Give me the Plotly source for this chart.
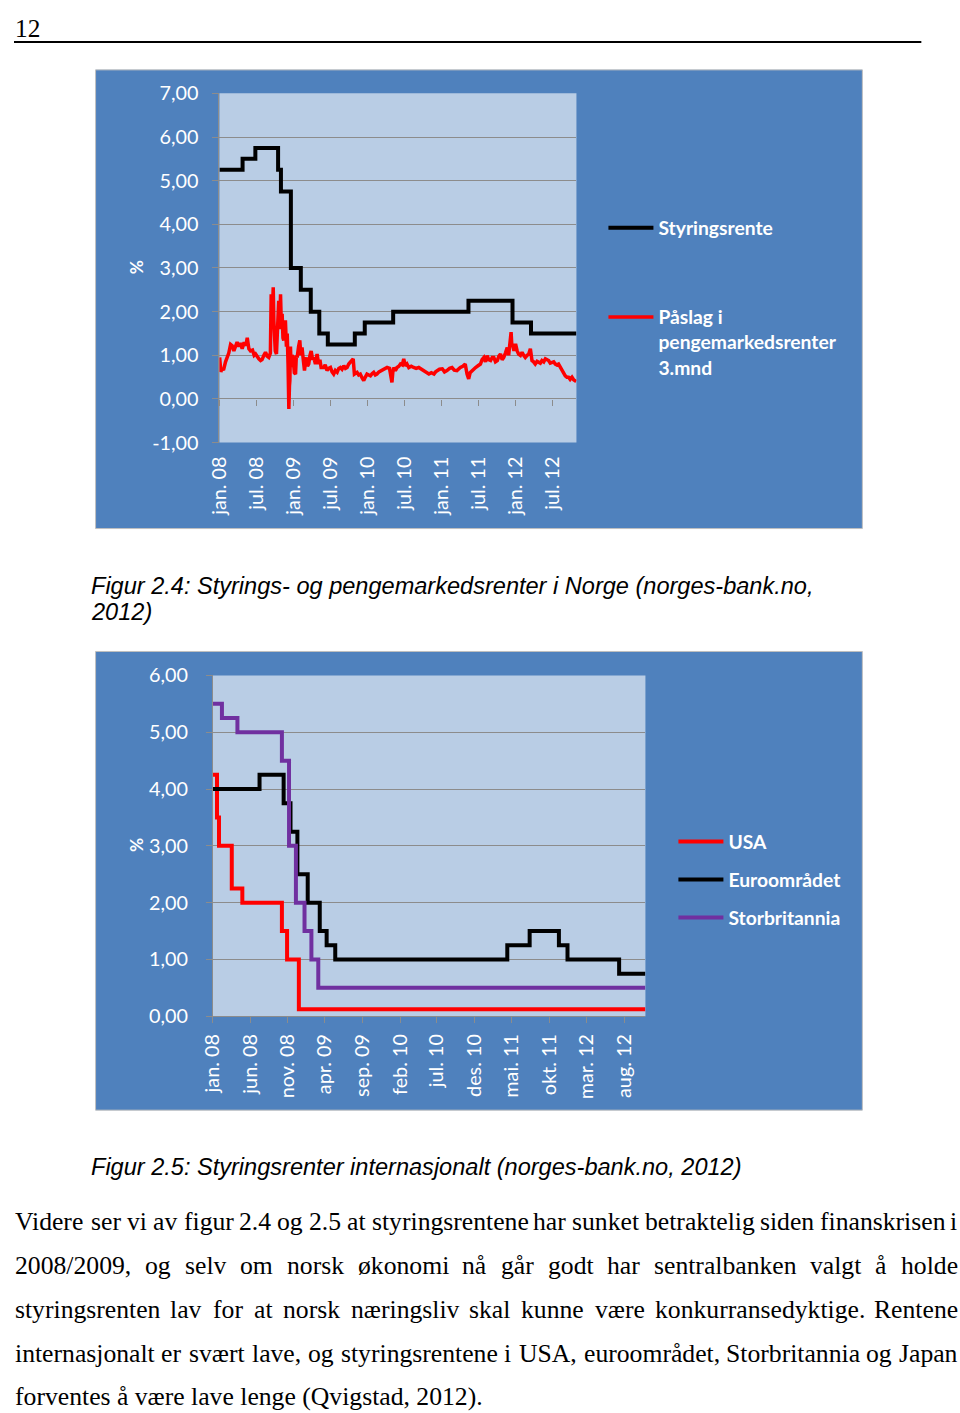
import plotly.graph_objects as go

W, H = 960, 1413
# The page photo shows the figure slightly inset and scaled; positions below are given in
# reference-image pixels and mapped to figure pixels through this correction.
SX, AX = 0.9857, 13.4
SY, AY = 0.98367, 12.1
FS = 1 / 0.985
def dx(x): return (x - AX) / SX
def dy(y): return (y - AY) / SY
def px(x): return dx(x) / W
def py(y): return 1 - dy(y) / H

# ---------------- Data: Figur 2.4 (Norge) ----------------
styr_dates = ['2008-01-01', '2008-04-24', '2008-06-26', '2008-10-16', '2008-10-30', '2008-12-18',
              '2009-02-05', '2009-03-26', '2009-05-07', '2009-06-18', '2009-10-29', '2009-12-17',
              '2010-05-06', '2011-05-12', '2011-12-15', '2012-03-15', '2012-10-25']
styr_values = [5.25, 5.50, 5.75, 5.25, 4.75, 3.00, 2.50, 2.00, 1.50, 1.25, 1.50, 1.75,
               2.00, 2.25, 1.75, 1.50, 1.50]

paslag_dates = [
    '2008-01-02', '2008-01-08', '2008-01-14', '2008-01-21', '2008-01-31', '2008-02-08', '2008-02-16',
    '2008-02-25', '2008-03-04', '2008-03-12', '2008-03-20', '2008-03-28', '2008-04-06', '2008-04-14',
    '2008-04-22', '2008-05-02', '2008-05-10', '2008-05-17', '2008-05-25', '2008-06-02', '2008-06-12',
    '2008-06-20', '2008-06-27', '2008-07-06', '2008-07-13', '2008-07-22', '2008-07-29', '2008-08-07',
    '2008-08-15', '2008-08-23', '2008-08-31', '2008-09-08', '2008-09-12', '2008-09-17', '2008-09-22',
    '2008-09-25', '2008-09-28', '2008-10-02', '2008-10-08', '2008-10-13', '2008-10-19', '2008-10-24',
    '2008-10-28', '2008-11-01', '2008-11-05', '2008-11-09', '2008-11-13', '2008-11-17', '2008-11-21',
    '2008-11-26', '2008-11-30', '2008-12-04', '2008-12-08', '2008-12-11', '2008-12-13', '2008-12-16',
    '2008-12-19', '2008-12-24', '2008-12-29', '2009-01-04', '2009-01-10', '2009-01-14', '2009-01-18',
    '2009-01-25', '2009-01-31', '2009-02-05', '2009-02-11', '2009-02-17', '2009-02-23', '2009-02-28',
    '2009-03-05', '2009-03-10', '2009-03-16', '2009-03-22', '2009-03-28', '2009-04-04', '2009-04-10',
    '2009-04-18', '2009-04-26', '2009-05-04', '2009-05-10', '2009-05-16', '2009-05-29', '2009-06-05',
    '2009-06-14', '2009-06-22', '2009-07-01', '2009-07-09', '2009-07-17', '2009-07-25', '2009-08-03',
    '2009-08-11', '2009-08-19', '2009-08-27', '2009-09-05', '2009-09-13', '2009-09-21', '2009-09-29',
    '2009-10-07', '2009-10-14', '2009-10-21', '2009-10-27', '2009-11-02', '2009-11-09', '2009-11-17',
    '2009-11-25', '2009-12-04', '2009-12-12', '2009-12-20', '2009-12-28', '2010-01-06', '2010-01-14',
    '2010-01-22', '2010-01-30', '2010-02-07', '2010-02-15', '2010-02-25', '2010-03-12', '2010-03-24',
    '2010-04-06', '2010-04-18', '2010-04-30', '2010-05-04', '2010-05-09', '2010-05-17', '2010-05-25',
    '2010-06-03', '2010-06-11', '2010-06-20', '2010-06-27', '2010-07-05', '2010-07-13', '2010-07-22',
    '2010-08-03', '2010-08-15', '2010-08-27', '2010-09-09', '2010-09-21', '2010-10-04', '2010-10-16',
    '2010-10-29', '2010-11-10', '2010-11-23', '2010-12-01', '2010-12-09', '2010-12-20', '2011-01-03',
    '2011-01-14', '2011-01-26', '2011-02-08', '2011-02-20', '2011-03-03', '2011-03-16', '2011-03-25',
    '2011-04-02', '2011-04-14', '2011-04-26', '2011-05-05', '2011-05-13', '2011-05-20', '2011-05-30',
    '2011-06-08', '2011-06-16', '2011-06-28', '2011-07-10', '2011-07-18', '2011-07-27', '2011-08-04',
    '2011-08-12', '2011-08-20', '2011-08-29', '2011-09-06', '2011-09-14', '2011-09-22', '2011-10-01',
    '2011-10-09', '2011-10-17', '2011-10-25', '2011-11-02', '2011-11-10', '2011-11-19', '2011-11-26',
    '2011-12-02', '2011-12-08', '2011-12-12', '2011-12-15', '2011-12-22', '2011-12-30', '2012-01-07',
    '2012-01-14', '2012-01-23', '2012-01-31', '2012-02-08', '2012-02-16', '2012-02-25', '2012-03-04',
    '2012-03-12', '2012-03-20', '2012-03-28', '2012-04-05', '2012-04-14', '2012-04-22', '2012-04-30',
    '2012-05-08', '2012-05-17', '2012-05-25', '2012-06-02', '2012-06-10', '2012-06-18', '2012-06-26',
    '2012-07-05', '2012-07-13', '2012-07-21', '2012-07-29', '2012-08-07', '2012-08-15', '2012-08-23',
    '2012-08-31', '2012-09-08', '2012-09-16', '2012-09-24', '2012-10-03', '2012-10-11', '2012-10-19',
    '2012-10-24']
paslag_values = [
    0.95, 0.62, 0.70, 0.66, 0.85, 0.95, 1.05,
    1.25, 1.22, 1.10, 1.18, 1.30, 1.20, 1.28,
    1.15, 1.30, 1.22, 1.40, 1.15, 1.10, 1.12,
    1.00, 1.03, 0.95, 0.92, 0.88, 0.90, 1.00,
    1.07, 0.98, 0.95, 1.05, 2.40, 1.80, 2.56,
    1.80, 1.49, 1.10, 1.03, 1.50, 2.25, 1.60,
    2.40, 1.70, 1.95, 1.40, 1.34, 1.70, 1.80,
    1.20, 1.50, 0.80, -0.23, 0.30, 0.42, 1.20,
    0.73, 1.00, 0.95, 0.60, 0.57, 1.00, 0.95,
    1.20, 1.34, 1.00, 1.18, 0.90, 0.65, 0.85,
    0.95, 0.75, 0.80, 1.00, 1.10, 0.90, 0.95,
    0.80, 1.03, 0.80, 0.90, 0.72, 0.72, 0.78,
    0.65, 0.70, 0.72, 0.62, 0.57, 0.65, 0.61,
    0.70, 0.72, 0.68, 0.76, 0.70, 0.72, 0.80,
    0.84, 0.88, 0.92, 0.57, 0.60, 0.61, 0.55,
    0.57, 0.48, 0.42, 0.50, 0.57, 0.55, 0.53,
    0.58, 0.61, 0.55, 0.57, 0.62, 0.65, 0.68,
    0.72, 0.70, 0.38, 0.60, 0.72, 0.65, 0.72,
    0.75, 0.80, 0.78, 0.92, 0.76, 0.80, 0.72,
    0.75, 0.72, 0.70, 0.72, 0.68, 0.65, 0.60,
    0.57, 0.60, 0.57, 0.62, 0.65, 0.68, 0.69,
    0.62, 0.65, 0.70, 0.72, 0.66, 0.65, 0.70,
    0.72, 0.75, 0.80, 0.57, 0.46, 0.60, 0.65,
    0.70, 0.72, 0.76, 0.80, 0.90, 0.95, 0.85,
    0.99, 0.90, 0.88, 0.95, 0.95, 0.85, 0.88,
    0.98, 1.03, 0.90, 0.95, 1.05, 1.18, 1.00,
    1.26, 1.53, 1.20, 1.26, 1.10, 1.26, 1.10,
    1.03, 1.00, 1.07, 1.00, 0.95, 1.00, 1.03,
    1.15, 0.88, 0.85, 0.80, 0.86, 0.84, 0.82,
    0.88, 0.85, 0.92, 0.90, 0.88, 0.82, 0.84,
    0.85, 0.80, 0.78, 0.80, 0.72, 0.65, 0.58,
    0.53, 0.50, 0.50, 0.45, 0.50, 0.44, 0.42,
    0.40]

fig1_tick_dates = ['2008-01-01', '2008-07-01', '2009-01-01', '2009-07-01', '2010-01-01',
                   '2010-07-01', '2011-01-01', '2011-07-01', '2012-01-01', '2012-07-01']
fig1_tick_text = ['jan. 08', 'jul. 08', 'jan. 09', 'jul. 09', 'jan. 10',
                  'jul. 10', 'jan. 11', 'jul. 11', 'jan. 12', 'jul. 12']
fig1_y_vals = [-1, 0, 1, 2, 3, 4, 5, 6, 7]
fig1_y_text = ['-1,00', '0,00', '1,00', '2,00', '3,00', '4,00', '5,00', '6,00', '7,00']
fig1_range = ['2008-01-01', '2012-10-25']

# ---------------- Data: Figur 2.5 (internasjonalt) ----------------
usa_dates = ['2008-01-01', '2008-01-18', '2008-01-26', '2008-03-18', '2008-04-30',
             '2008-10-08', '2008-10-29', '2008-12-16', '2012-10-26']
usa_values = [4.25, 3.50, 3.00, 2.25, 2.00, 1.50, 1.00, 0.125, 0.125]

euro_dates = ['2008-01-01', '2008-07-09', '2008-10-15', '2008-11-12', '2008-12-10', '2009-01-21',
              '2009-03-11', '2009-04-08', '2009-05-13', '2011-04-13', '2011-07-13', '2011-11-09',
              '2011-12-14', '2012-07-11', '2012-10-26']
euro_values = [4.00, 4.25, 3.75, 3.25, 2.50, 2.00, 1.50, 1.25, 1.00, 1.25, 1.50, 1.25,
               1.00, 0.75, 0.75]

uk_dates = ['2008-01-01', '2008-02-07', '2008-04-10', '2008-10-08', '2008-11-06', '2008-12-04',
            '2009-01-08', '2009-02-05', '2009-03-05', '2012-10-26']
uk_values = [5.50, 5.25, 5.00, 4.50, 3.00, 2.00, 1.50, 1.00, 0.50, 0.50]

fig2_tick_dates = ['2008-01-01', '2008-06-01', '2008-11-01', '2009-04-01', '2009-09-01', '2010-02-01',
                   '2010-07-01', '2010-12-01', '2011-05-01', '2011-10-01', '2012-03-01', '2012-08-01']
fig2_tick_text = ['jan. 08', 'jun. 08', 'nov. 08', 'apr. 09', 'sep. 09', 'feb. 10',
                  'jul. 10', 'des. 10', 'mai. 11', 'okt. 11', 'mar. 12', 'aug. 12']
fig2_y_vals = [0, 1, 2, 3, 4, 5, 6]
fig2_y_text = ['0,00', '1,00', '2,00', '3,00', '4,00', '5,00', '6,00']
fig2_range = ['2008-01-01', '2012-10-26']

# ---------------- Page text ----------------
page_number = '12'
caption1_lines = ['Figur 2.4: Styrings- og pengemarkedsrenter i Norge (norges-bank.no,', '2012)']
caption2 = 'Figur 2.5: Styringsrenter internasjonalt (norges-bank.no, 2012)'
body_lines = [
    'Videre ser vi av figur 2.4 og 2.5 at styringsrentene har sunket betraktelig siden finanskrisen i',
    '2008/2009, og selv om norsk økonomi nå går godt har sentralbanken valgt å holde',
    'styringsrenten lav for at norsk næringsliv skal kunne være konkurransedyktige. Rentene',
    'internasjonalt er svært lave, og styringsrentene i USA, euroområdet, Storbritannia og Japan',
    'forventes å være lave lenge (Qvigstad, 2012).',
]

# ---------------- Styles ----------------
BOX = '#4F81BD'
PLOTBG = '#B9CDE5'
GRID = '#8C8C8C'
TICKFONT = dict(family='Lato', size=19.5 * FS, color='white')
LEGFONT = dict(family='Lato', size=19 * FS, color='white', weight='bold')

fig = go.Figure()

fig.add_trace(go.Scatter(x=styr_dates, y=styr_values, mode='lines', line_shape='hv',
                         line=dict(color='black', width=4), name='Styringsrente',
                         xaxis='x', yaxis='y', legend='legend', legendgroup='a'))
fig.add_trace(go.Scatter(x=paslag_dates, y=paslag_values, mode='lines',
                         line=dict(color='#FF0000', width=3.5),
                         name='Påslag i<br>pengemarkedsrenter<br>3.mnd',
                         xaxis='x', yaxis='y', legend='legend', legendgroup='b'))
# invisible carrier for the zero-line tick marks axis
fig.add_trace(go.Scatter(x=styr_dates, y=styr_values, mode='lines', line=dict(width=0),
                         opacity=0, showlegend=False, hoverinfo='skip', xaxis='x3', yaxis='y'))

fig.add_trace(go.Scatter(x=usa_dates, y=usa_values, mode='lines', line_shape='hv',
                         line=dict(color='#FF0000', width=4), name='USA',
                         xaxis='x2', yaxis='y2', legend='legend2', legendgroup='c'))
fig.add_trace(go.Scatter(x=euro_dates, y=euro_values, mode='lines', line_shape='hv',
                         line=dict(color='black', width=4), name='Euroområdet',
                         xaxis='x2', yaxis='y2', legend='legend2', legendgroup='d'))
fig.add_trace(go.Scatter(x=uk_dates, y=uk_values, mode='lines', line_shape='hv',
                         line=dict(color='#7030A0', width=4), name='Storbritannia',
                         xaxis='x2', yaxis='y2', legend='legend2', legendgroup='e'))

y1_dom = [py(442), py(92.5)]
y2_dom = [py(1016), py(675)]

fig.update_layout(
    width=W, height=H, autosize=False,
    margin=dict(l=0, r=0, t=0, b=0),
    paper_bgcolor='white', plot_bgcolor='rgba(0,0,0,0)',
    showlegend=True,
    xaxis=dict(type='date', domain=[px(218.9), px(576)], range=fig1_range, anchor='y',
               tickmode='array', tickvals=fig1_tick_dates, ticktext=fig1_tick_text,
               tickangle=-90, tickfont=TICKFONT, ticks='', showgrid=False, showline=False,
               zeroline=False, ticklabelstandoff=9),
    xaxis3=dict(type='date', range=fig1_range, overlaying='x', anchor='free',
                position=py(398.3), tickmode='array', tickvals=fig1_tick_dates,
                ticks='outside', ticklen=6, tickcolor=GRID, showticklabels=False,
                showgrid=False, showline=False, zeroline=False),
    yaxis=dict(domain=y1_dom, range=[-1, 7], anchor='x', tickmode='array',
               tickvals=fig1_y_vals, ticktext=fig1_y_text, tickfont=TICKFONT,
               showgrid=True, gridcolor=GRID, gridwidth=1, showline=True, linecolor=GRID,
               ticks='outside', ticklen=6, tickcolor=GRID, zeroline=False, ticklabelstandoff=10),
    xaxis2=dict(type='date', domain=[px(212.3), px(645)], range=fig2_range, anchor='y2',
                tickmode='array', tickvals=fig2_tick_dates, ticktext=fig2_tick_text,
                tickangle=-90, tickfont=TICKFONT, ticks='outside', ticklen=6, tickcolor=GRID,
                showgrid=False, showline=True, linecolor=GRID, zeroline=False,
                ticklabelstandoff=3),
    yaxis2=dict(domain=y2_dom, range=[0, 6], anchor='x2', tickmode='array',
                tickvals=fig2_y_vals, ticktext=fig2_y_text, tickfont=TICKFONT,
                showgrid=True, gridcolor=GRID, gridwidth=1, showline=True, linecolor=GRID,
                ticks='outside', ticklen=6, tickcolor=GRID, zeroline=False, ticklabelstandoff=14),
    legend=dict(x=px(603), y=py(208), xanchor='left', yanchor='top', font=LEGFONT,
                bgcolor='rgba(0,0,0,0)', borderwidth=0, itemwidth=45, valign='top',
                tracegroupgap=61, traceorder='grouped'),
    legend2=dict(x=px(673), y=py(822), xanchor='left', yanchor='top', font=LEGFONT,
                 bgcolor='rgba(0,0,0,0)', borderwidth=0, itemwidth=45, valign='middle',
                 tracegroupgap=10, traceorder='grouped'),
)

shapes = [
    # chart boxes
    dict(type='rect', xref='paper', yref='paper', x0=px(95), x1=px(862), y0=py(528), y1=py(69),
         fillcolor=BOX, line=dict(color='#BFBFBF', width=1), layer='below'),
    dict(type='rect', xref='paper', yref='paper', x0=px(95), x1=px(862), y0=py(1110), y1=py(651),
         fillcolor=BOX, line=dict(color='#BFBFBF', width=1), layer='below'),
    # plot areas
    dict(type='rect', xref='x domain', yref='y domain', x0=0, x1=1, y0=0, y1=1,
         fillcolor=PLOTBG, line=dict(width=0), layer='below'),
    dict(type='rect', xref='x2 domain', yref='y2 domain', x0=0, x1=1, y0=0, y1=1,
         fillcolor=PLOTBG, line=dict(width=0), layer='below'),
    # header rule
    dict(type='line', xref='paper', yref='paper', x0=0, x1=px(921), y0=py(41), y1=py(41),
         line=dict(color='black', width=2)),
]
fig.update_layout(shapes=shapes)

ann = []
# page number (kept inside the figure's top-left corner)
ann.append(dict(text=page_number, x=0.5 / W, y=1.0, xanchor='left', yanchor='top',
                font=dict(family='Liberation Serif', size=25 * FS, color='black'), borderpad=0))
# % axis titles
for yy in (267, 845):
    ann.append(dict(text='<b>%</b>', x=px(136), y=py(yy), xanchor='center', yanchor='middle',
                    textangle=-90, font=dict(family='Lato', size=17 * FS, color='white')))
# captions
CAPFONT = dict(family='Liberation Sans', size=23.2 * FS, color='black')
ann.append(dict(text='<i>' + caption1_lines[0] + '</i>', x=px(88), y=py(585), xanchor='left',
                yanchor='middle', font=CAPFONT))
ann.append(dict(text='<i>' + caption1_lines[1] + '</i>', x=px(88), y=py(611), xanchor='left',
                yanchor='middle', font=CAPFONT))
ann.append(dict(text='<i>' + caption2 + '</i>', x=px(88), y=py(1167), xanchor='left',
                yanchor='middle', font=CAPFONT))

# body text, justified using Times metrics (in figure pixels)
TNR = {' ': 250, '.': 250, ',': 250, '/': 278, '(': 333, ')': 333,
       'a': 444, 'b': 500, 'c': 444, 'd': 500, 'e': 444, 'f': 333, 'g': 500, 'h': 500,
       'i': 278, 'j': 278, 'k': 500, 'l': 278, 'm': 778, 'n': 500, 'o': 500, 'p': 500,
       'q': 500, 'r': 333, 's': 389, 't': 278, 'u': 500, 'v': 500, 'w': 722, 'x': 500,
       'y': 500, 'z': 444, 'å': 444, 'æ': 667, 'ø': 500,
       'V': 722, 'R': 667, 'U': 722, 'S': 556, 'A': 722, 'J': 389, 'Q': 722, 'T': 611}
BODY_SIZE = 25.3 * FS
def text_w(s):
    return sum(TNR.get(c, 500) for c in s) / 1000.0 * BODY_SIZE

BODY_X0 = max(dx(5), 0.5)
BODY_X1 = dx(955.5)
body_centers = [1221, 1265, 1309, 1353, 1397]
BFONT = dict(family='Liberation Serif', size=BODY_SIZE, color='black')
for i, line in enumerate(body_lines):
    yc = body_centers[i]
    if i == len(body_lines) - 1:
        ann.append(dict(text=line, x=BODY_X0 / W, y=py(yc), xanchor='left', yanchor='middle',
                        font=BFONT, borderpad=0))
        continue
    words = line.split(' ')
    widths = [text_w(w) for w in words]
    gap = (BODY_X1 - BODY_X0 - sum(widths)) / (len(words) - 1)
    x = BODY_X0
    for w, wd in zip(words, widths):
        ann.append(dict(text=w, x=x / W, y=py(yc), xanchor='left', yanchor='middle',
                        font=BFONT, borderpad=0))
        x += wd + gap

for a in ann:
    a.update(xref='paper', yref='paper', showarrow=False)
fig.update_layout(annotations=ann)

fig.write_html('out.html',
               config={'displayModeBar': False},
               post_script="document.documentElement.style.margin='0';"
                           "document.body.style.margin='0';document.body.style.padding='0';"
                           "document.body.style.overflow='hidden';"
                           "document.documentElement.style.overflow='hidden';"
                           "var gd=document.getElementById('{plot_id}');"
                           "gd.style.position='fixed';gd.style.left='0px';gd.style.top='0px';"
                           "gd.style.margin='0';")
